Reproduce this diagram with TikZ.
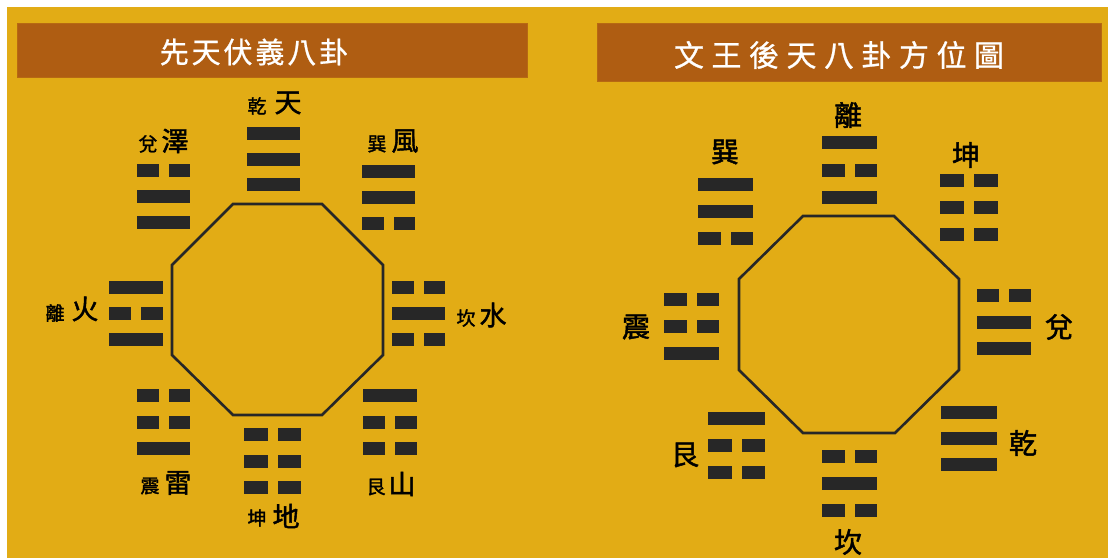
\documentclass[tikz,border=0pt]{standalone}
\usepackage{fontspec}
\newfontfamily\cjk[FakeBold=1.6]{Noto Sans CJK TC}
\newfontfamily\titleA[LetterSpace=10,FakeBold=0.8]{Noto Sans CJK TC}
\newfontfamily\titleB[LetterSpace=25,FakeBold=0.8]{Noto Sans CJK TC}
\definecolor{bgyellow}{HTML}{E2AC15}
\definecolor{titlebrown}{HTML}{AF5D12}
\definecolor{ink}{HTML}{272727}
\tikzset{
  yao/.style={fill=ink},
  oct/.style={draw=ink,line width=2.6pt,line join=miter},
  titlebox/.style={fill=titlebrown,draw=titlebrown!85!bgyellow,line width=0.8pt},
  titletext/.style={text=white,inner sep=0pt},
  sm/.style={inner sep=0pt,text=black,font=\cjk\fontsize{19}{19}\selectfont},
  lg/.style={inner sep=0pt,text=black,font=\cjk\fontsize{27}{27}\selectfont},
  rl/.style={inner sep=0pt,text=black,font=\cjk\fontsize{28}{28}\selectfont},
}
% one line of a trigram: #1 = 1 (solid) or 0 (broken), #2 x, #3 y, #4 width
\newcommand\yaoline[4]{%
  \ifnum#1=1
    \fill[yao] ({#2},{#3}) rectangle ++({#4},13);
  \else
    \fill[yao] ({#2},{#3}) rectangle ++({(#4-10)/2},13);
    \fill[yao] ({#2+(#4+10)/2},{#3}) rectangle ++({(#4-10)/2},13);
  \fi}
% trigram: #1 x, #2 y of top line, #3 width, #4 pitch, #5 #6 #7 lines top to bottom
\newcommand\gua[7]{%
  \yaoline{#5}{#1}{#2}{#3}%
  \yaoline{#6}{#1}{#2+#4}{#3}%
  \yaoline{#7}{#1}{#2+2*#4}{#3}}
\begin{document}
\begin{tikzpicture}[x=1pt,y=-1pt]
\useasboundingbox (0,0) rectangle (1108,558);
\fill[white] (0,0) rectangle (1108,558);
\fill[bgyellow] (7,7) rectangle (1108,558);

% ---------- titles ----------
\draw[titlebox] (17,23) rectangle (527,77);
\node[titletext,font=\titleA\fontsize{29}{29}\selectfont] (titleL) at (254,52) {先天伏義八卦};
\draw[titlebox] (597,23) rectangle (1101,81);
\node[titletext,font=\titleB\fontsize{30}{30}\selectfont] (titleR) at (839,55) {文王後天八卦方位圖};

% ---------- left: 先天 ----------
\draw[oct] (233,204) -- (322,204) -- (383,265) -- (383,355) -- (322,415) -- (233,415) -- (172,355) -- (172,265) -- cycle;

\gua{247}{127}{53}{25.5}{1}{1}{1}  % 乾
\gua{137}{164}{53}{26}{0}{1}{1}    % 兌
\gua{362}{165}{53}{26}{1}{1}{0}    % 巽
\gua{109}{281}{54}{26}{1}{0}{1}    % 離
\gua{392}{281}{53}{26}{0}{1}{0}    % 坎
\gua{137}{389}{53}{26.5}{0}{0}{1}  % 震
\gua{244}{428}{57}{26.5}{0}{0}{0}  % 坤
\gua{363}{389}{54}{26.5}{1}{0}{0}  % 艮

\node[sm] (lqian) at (257,106) {乾};
\node[lg] (ltian) at (288,103) {天};
\node[sm] (ldui) at (148,144) {兌};
\node[lg] (lze) at (175,141) {澤};
\node[sm] (lxun) at (377,144) {巽};
\node[lg] (lfeng) at (405,141) {風};
\node[sm] (lli) at (55,313) {離};
\node[lg] (lhuo) at (85,309) {火};
\node[sm] (lkan) at (466,318) {坎};
\node[lg] (lshui) at (493,315) {水};
\node[sm] (lzhen) at (150,486) {震};
\node[lg] (llei) at (178,483) {雷};
\node[sm] (lkun) at (257,518) {坤};
\node[lg] (ldi) at (286,516) {地};
\node[sm] (lgen) at (376,487) {艮};
\node[lg] (lshan) at (402,484) {山};

% ---------- right: 後天 ----------
\draw[oct] (803,216) -- (894,216) -- (959,279) -- (959,370) -- (895,433) -- (803,433) -- (739,370) -- (739,279) -- cycle;

\gua{822}{136}{55}{27.5}{1}{0}{1}  % 離
\gua{698}{178}{55}{27}{1}{1}{0}    % 巽
\gua{940}{174}{58}{27}{0}{0}{0}    % 坤
\gua{664}{293}{55}{27}{0}{0}{1}    % 震
\gua{977}{289}{54}{26.5}{0}{1}{1}  % 兌
\gua{708}{412}{57}{27}{1}{0}{0}    % 艮
\gua{822}{450}{55}{27}{0}{1}{0}    % 坎
\gua{941}{406}{56}{26}{1}{1}{1}    % 乾

\node[rl] (rli) at (848,115) {離};
\node[rl] (rxun) at (725,152) {巽};
\node[rl] (rkun) at (966,155) {坤};
\node[rl] (rzhen) at (636,327) {震};
\node[rl] (rdui) at (1059,327) {兌};
\node[rl] (rgen) at (685,455) {艮};
\node[rl] (rkan) at (848,542) {坎};
\node[rl] (rqian) at (1023,443) {乾};
\end{tikzpicture}
\end{document}
